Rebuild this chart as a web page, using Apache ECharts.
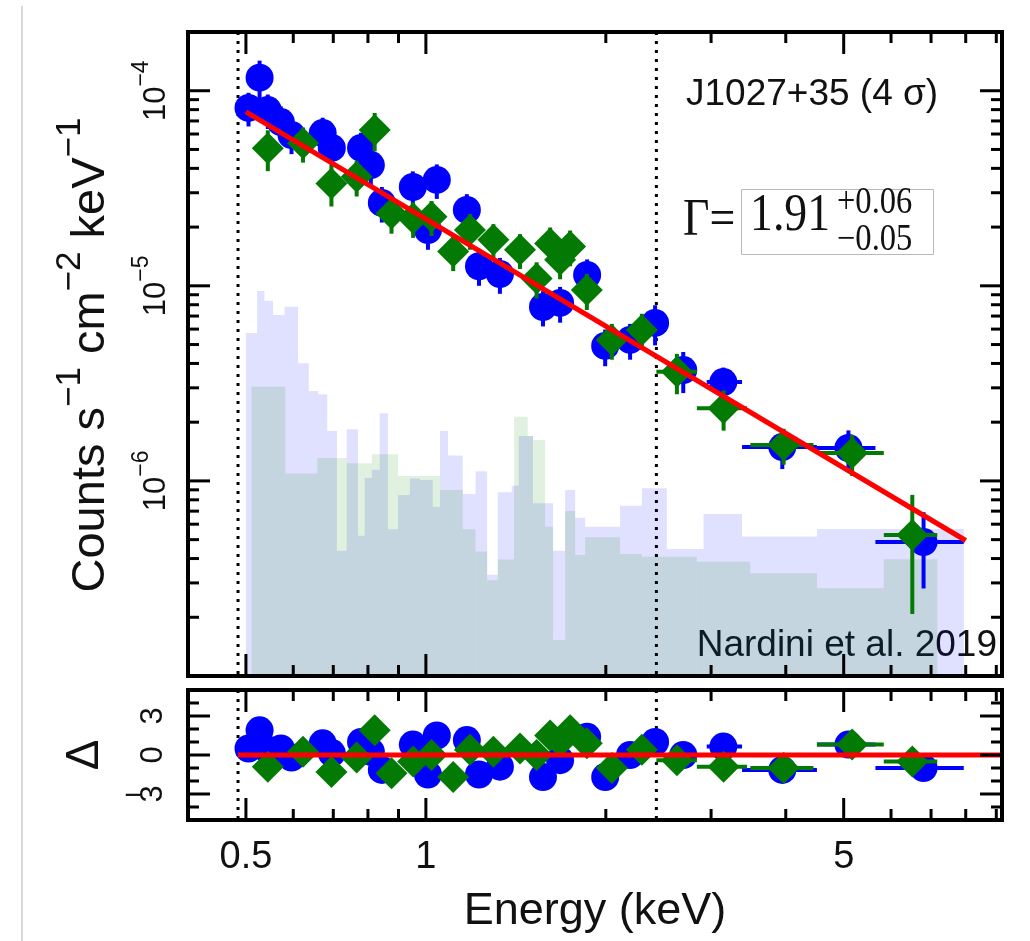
<!DOCTYPE html>
<html>
<head>
<meta charset="utf-8">
<script src="https://cdn.jsdelivr.net/npm/echarts@6/dist/echarts.min.js"></script>
<style>
  html, body { margin: 0; padding: 0; background: #fff; }
  #chart { width: 1030px; height: 941px; }
</style>
</head>
<body>
<div id="chart"></div>
<script>
// ---- axis ranges and ticks ----
const energyRange = [0.4, 9.2];          // keV
const rateRange = [1e-7, 2e-4];          // counts s^-1 cm^-2 keV^-1
const deltaRange = [-5, 5];

const xMajorTicks = [0.5, 1, 5];
const xMinorTicks = [0.6, 0.7, 0.8, 0.9, 2, 3, 4, 6, 7, 8, 9];
const xTickLabels = ['0.5', '1', '5'];

const yMajorTicks = [1e-4, 1e-5, 1e-6];
const yMinorTicks = [9e-5, 8e-5, 7e-5, 6e-5, 5e-5, 4e-5, 3e-5, 2e-5,
                     9e-6, 8e-6, 7e-6, 6e-6, 5e-6, 4e-6, 3e-6, 2e-6,
                     9e-7, 8e-7, 7e-7, 6e-7, 5e-7, 4e-7, 3e-7, 2e-7];
const yTickExponents = ['−4', '−5', '−6'];

const dMajorTicks = [-3, 0, 3];
const dMinorTicks = [-4, -2, -1, 1, 2, 4];
const dTickLabels = ['−3', '0', '3'];

// band limits marked with dotted lines (keV)
const bandLimits = [0.485, 2.43];

// ---- blue spectrum ----
const blueE = [0.505, 0.527, 0.544, 0.572, 0.596, 0.672, 0.696, 0.779, 0.809, 0.844, 0.951, 1.008, 1.043, 1.171, 1.227, 1.330, 1.570, 1.677, 1.861, 1.995, 2.196, 2.418, 2.695, 3.145, 3.947, 5.092, 6.801];
const blueELo = [0.500, 0.515, 0.537, 0.555, 0.585, 0.660, 0.685, 0.765, 0.795, 0.825, 0.930, 0.985, 1.030, 1.140, 1.200, 1.290, 1.520, 1.620, 1.800, 1.930, 2.110, 2.320, 2.560, 2.950, 3.380, 4.510, 5.650];
const blueEHi = [0.515, 0.537, 0.555, 0.585, 0.610, 0.685, 0.710, 0.795, 0.825, 0.865, 0.975, 1.030, 1.060, 1.200, 1.255, 1.370, 1.620, 1.730, 1.920, 2.060, 2.280, 2.520, 2.840, 3.380, 4.510, 5.650, 7.940];
const blueRate = [8.16e-5, 1.166e-4, 7.96e-5, 6.91e-5, 5.93e-5, 6.07e-5, 5.09e-5, 5.09e-5, 4.16e-5, 2.66e-5, 3.21e-5, 1.93e-5, 3.49e-5, 2.45e-5, 1.26e-5, 1.15e-5, 7.79e-6, 8.17e-6, 1.136e-5, 4.92e-6, 5.28e-6, 6.45e-6, 3.70e-6, 3.21e-6, 1.49e-6, 1.475e-6, 4.86e-7];
const blueRateErr = [1.6e-5, 2.6e-5, 1.6e-5, 1.4e-5, 1.2e-5, 1.2e-5, 1.0e-5, 1.0e-5, 9.0e-6, 5.5e-6, 6.5e-6, 4.0e-6, 7.0e-6, 5.0e-6, 2.6e-6, 2.4e-6, 1.6e-6, 1.7e-6, 2.3e-6, 1.05e-6, 1.1e-6, 1.5e-6, 8.8e-7, 6.0e-7, 3.4e-7, 3.4e-7, 2.05e-7];
const blueDelta = [0.5, 1.9, 0.4, 0.5, -0.2, 0.9, 0.15, 1.0, 0.25, -1.15, 0.8, -1.5, 1.5, 1.15, -1.5, -0.9, -1.7, -0.4, 1.4, -1.7, 0.0, 1.0, 0.0, 0.65, -1.15, 0.8, -1.0];

// ---- green spectrum ----
const greenE = [0.544, 0.623, 0.695, 0.766, 0.821, 0.876, 0.952, 1.022, 1.111, 1.185, 1.297, 1.437, 1.532, 1.614, 1.677, 1.743, 1.859, 2.047, 2.298, 2.630, 3.148, 3.967, 5.165, 6.512];
const greenELo = [0.530, 0.600, 0.675, 0.745, 0.800, 0.855, 0.930, 1.000, 1.085, 1.155, 1.260, 1.400, 1.490, 1.575, 1.650, 1.705, 1.810, 1.980, 2.220, 2.430, 2.840, 3.490, 4.510, 5.835];
const greenEHi = [0.560, 0.645, 0.715, 0.785, 0.840, 0.900, 0.975, 1.045, 1.140, 1.215, 1.335, 1.475, 1.575, 1.650, 1.705, 1.780, 1.910, 2.110, 2.380, 2.840, 3.445, 4.450, 5.835, 7.170];
const greenRate = [5.07e-5, 5.38e-5, 3.35e-5, 3.62e-5, 6.29e-5, 2.35e-5, 2.22e-5, 2.26e-5, 1.50e-5, 1.93e-5, 1.72e-5, 1.53e-5, 1.09e-5, 1.65e-5, 1.36e-5, 1.59e-5, 9.52e-6, 5.28e-6, 5.94e-6, 3.63e-6, 2.36e-6, 1.53e-6, 1.39e-6, 5.28e-7];
const greenRateErr = [1.2e-5, 1.1e-5, 8.0e-6, 7.5e-6, 1.4e-5, 5.0e-6, 4.6e-6, 4.6e-6, 3.1e-6, 4.0e-6, 3.5e-6, 3.1e-6, 2.3e-6, 3.4e-6, 2.8e-6, 3.3e-6, 2.0e-6, 1.1e-6, 1.25e-6, 8.5e-7, 5.5e-7, 3.2e-7, 3.3e-7, 3.2e-7];
const greenDelta = [-0.9, 0.25, -1.3, -0.2, 1.9, -1.4, -0.5, 0.0, -1.7, 0.4, 0.25, 0.5, 0.0, 1.5, 1.0, 1.9, 0.9, -1.0, 0.4, -0.4, -0.9, -1.0, 0.8, -0.5];

// ---- power-law model (end points) ----
const modelE = [0.5, 8.0];
const modelRate = [7.8e-5, 4.95e-7];
const residualZeroE = [0.485, 9.2];

// ---- background spectra (bin edges in keV, rates) ----
const bkgBlueEdges = [0.500, 0.522, 0.537, 0.555, 0.580, 0.611, 0.637, 0.660, 0.684, 0.710, 0.737, 0.770, 0.790, 0.812, 0.837, 0.864, 0.898, 0.940, 0.977, 1.027, 1.056, 1.089, 1.153, 1.211, 1.266, 1.319, 1.392, 1.430, 1.511, 1.632, 1.710, 1.777, 1.847, 2.113, 2.298, 2.530, 2.914, 3.380, 4.511, 7.943];
const bkgBlueRate = [5.73e-6, 9.41e-6, 8.39e-6, 7.09e-6, 7.82e-6, 4.01e-6, 2.89e-6, 2.78e-6, 1.80e-6, 4.38e-7, 1.84e-6, 5.24e-7, 1.035e-6, 1.14e-6, 2.22e-6, 5.66e-7, 8.47e-7, 1.03e-6, 1.01e-6, 7.38e-7, 1.80e-6, 1.35e-6, 8.57e-7, 1.12e-6, 3.30e-7, 8.74e-7, 9.45e-7, 1.70e-6, 7.68e-7, 4.38e-7, 8.98e-7, 6.48e-7, 5.83e-7, 7.46e-7, 9.16e-7, 4.48e-7, 6.77e-7, 5.19e-7, 5.67e-7];
const bkgGreenEdges = [0.511, 0.582, 0.658, 0.737, 0.812, 0.898, 1.056, 1.153, 1.211, 1.266, 1.319, 1.405, 1.480, 1.511, 1.583, 1.632, 1.710, 1.777, 1.847, 2.113, 2.298, 2.841, 3.489, 4.511, 5.835, 7.170];
const bkgGreenRate = [3.04e-6, 1.09e-6, 1.31e-6, 1.23e-6, 1.37e-6, 1.06e-6, 8.98e-7, 5.66e-7, 4.35e-7, 3.10e-7, 3.95e-7, 2.13e-6, 1.70e-6, 1.62e-6, 5.83e-7, 1.53e-7, 7.01e-7, 4.17e-7, 5.14e-7, 4.22e-7, 4.09e-7, 3.85e-7, 3.36e-7, 2.82e-7, 3.97e-7];

// ---- styling ----
const SANS = '"Liberation Sans", Arial, Helvetica, sans-serif';
const SERIF = '"Liberation Serif", "Times New Roman", serif';
const INK = '#111';
const BLUE = '#0000ff';
const GREEN = '#037a03';
const RED = '#ff0000';
const MAJOR_LEN = 22, MINOR_LEN = 11;

const chart = echarts.init(document.getElementById('chart'), null, { renderer: 'canvas' });

function hiddenAxis(extra) {
  return Object.assign({
    axisLine: { show: false }, axisTick: { show: false },
    axisLabel: { show: false }, splitLine: { show: false }
  }, extra);
}

function binsOf(edges, rates) {
  return rates.map((r, i) => [edges[i], edges[i + 1], r]);
}

// filled step histogram reaching down to the bottom of the panel
function histItem(params, api) {
  const p0 = api.coord([api.value(0), api.value(2)]);
  const p1 = api.coord([api.value(1), rateRange[0]]);
  return {
    type: 'rect',
    shape: { x: p0[0], y: p0[1], width: p1[0] - p0[0], height: p1[1] - p0[1] },
    style: api.style()
  };
}

// horizontal + vertical error bars
function errItem(color) {
  return function (params, api) {
    const a = api.coord([api.value(2), api.value(1)]);
    const b = api.coord([api.value(3), api.value(1)]);
    const c = api.coord([api.value(0), api.value(4)]);
    const d = api.coord([api.value(0), api.value(5)]);
    const st = { stroke: color, lineWidth: 4 };
    return {
      type: 'group', children: [
        { type: 'line', shape: { x1: a[0], y1: a[1], x2: b[0], y2: b[1] }, style: st },
        { type: 'line', shape: { x1: c[0], y1: c[1], x2: d[0], y2: d[1] }, style: st }
      ]
    };
  };
}

function dottedItem(yRef) {
  return function (params, api) {
    const cs = params.coordSys;
    const x = api.coord([api.value(0), yRef])[0];
    return {
      type: 'line',
      shape: { x1: x, y1: cs.y, x2: x, y2: cs.y + cs.height },
      style: { stroke: '#000', lineWidth: 3, lineDash: [3, 6] }
    };
  };
}

function rotLabel(x, y, text, rich) {
  return {
    type: 'text', x: x, y: y, rotation: Math.PI / 2,
    style: { text: text, rich: rich, fill: INK, fontFamily: SANS, fontSize: 31, align: 'center', verticalAlign: 'middle' }
  };
}

// frame, inward ticks on all four sides, and tick labels
function frameItem(opt) {
  return function (params, api) {
    const cs = params.coordSys;
    const L = cs.x, T = cs.y, R = cs.x + cs.width, B = cs.y + cs.height;
    const kids = [];
    const seg = (x1, y1, x2, y2) => kids.push({ type: 'line', shape: { x1, y1, x2, y2 }, style: { stroke: '#000', lineWidth: 3 } });
    const xAt = v => api.coord([v, opt.yRef])[0];
    const yAt = v => api.coord([opt.xRef, v])[1];
    const xTick = (v, len) => { const x = xAt(v); seg(x, T, x, T + len); seg(x, B, x, B - len); };
    const yTick = (v, len) => { const y = yAt(v); seg(L, y, L + len, y); seg(R, y, R - len, y); };
    xMajorTicks.forEach(v => xTick(v, MAJOR_LEN));
    xMinorTicks.forEach(v => xTick(v, MINOR_LEN));
    opt.yMajor.forEach(v => yTick(v, MAJOR_LEN));
    opt.yMinor.forEach(v => yTick(v, MINOR_LEN));
    kids.push({ type: 'rect', shape: { x: L, y: T, width: R - L, height: B - T },
                style: { fill: 'transparent', stroke: '#000', lineWidth: 4 } });
    opt.yMajor.forEach((v, i) => opt.label(v, i, yAt(v)).forEach(k => kids.push(k)));
    if (opt.xLabels) {
      xMajorTicks.forEach((v, i) => kids.push({
        type: 'text', x: xAt(v), y: B + 38,
        style: { text: opt.xLabels[i], fill: INK, fontFamily: SANS, fontSize: 38, align: 'center', verticalAlign: 'middle' }
      }));
    }
    return { type: 'group', children: kids };
  };
}

const powRich = {
  b: { fontFamily: SANS, fontSize: 31, fill: INK, lineHeight: 42, verticalAlign: 'bottom' },
  s: { fontFamily: SANS, fontSize: 23, fill: INK, lineHeight: 23, verticalAlign: 'top' }
};

const mainFrame = frameItem({
  xRef: 1, yRef: 1e-5, yMajor: yMajorTicks, yMinor: yMinorTicks,
  label: (v, i, y) => [rotLabel(151, y, '{b|10}{s|' + yTickExponents[i] + '}', powRich)]
});

const residFrame = frameItem({
  xRef: 1, yRef: 0, yMajor: dMajorTicks, yMinor: dMinorTicks, xLabels: xTickLabels,
  label: (v, i, y) => {
    const t = dTickLabels[i];
    if (t.charAt(0) === '−') {
      return [
        rotLabel(153, y, t.slice(1)),
        { type: 'text', x: 133, y: y + 2,
          style: { text: '−', fill: INK, fontFamily: SANS, fontSize: 31, align: 'center', verticalAlign: 'middle' } }
      ];
    }
    return [rotLabel(153, y, t)];
  }
});

function errData(E, lo, hi, val, vLo, vHi) {
  return E.map((e, i) => [e, val[i], lo[i], hi[i], vLo[i], vHi[i]]);
}

const blueErrMain = errData(blueE, blueELo, blueEHi, blueRate,
  blueRate.map((r, i) => r - blueRateErr[i]), blueRate.map((r, i) => r + blueRateErr[i]));
const greenErrMain = errData(greenE, greenELo, greenEHi, greenRate,
  greenRate.map((r, i) => r - greenRateErr[i]), greenRate.map((r, i) => r + greenRateErr[i]));
const blueErrRes = errData(blueE, blueELo, blueEHi, blueDelta,
  blueDelta.map(d => d - 1), blueDelta.map(d => d + 1));
const greenErrRes = errData(greenE, greenELo, greenEHi, greenDelta,
  greenDelta.map(d => d - 1), greenDelta.map(d => d + 1));

const markerStyle = c => ({ color: c, opacity: 1 });

const option = {
  animation: false,
  backgroundColor: '#ffffff',
  grid: [
    { left: 188, top: 32, width: 814, height: 644 },
    { left: 188, top: 690, width: 814, height: 130 }
  ],
  xAxis: [
    hiddenAxis({ gridIndex: 0, type: 'log', logBase: 10, min: energyRange[0], max: energyRange[1] }),
    hiddenAxis({ gridIndex: 1, type: 'log', logBase: 10, min: energyRange[0], max: energyRange[1] })
  ],
  yAxis: [
    hiddenAxis({ gridIndex: 0, type: 'log', logBase: 10, min: rateRange[0], max: rateRange[1] }),
    hiddenAxis({ gridIndex: 1, type: 'value', min: deltaRange[0], max: deltaRange[1] })
  ],
  series: [
    { type: 'custom', name: 'bkg-blue', xAxisIndex: 0, yAxisIndex: 0, z: 1,
      data: binsOf(bkgBlueEdges, bkgBlueRate), encode: { x: [0, 1], y: 2 },
      itemStyle: { color: 'rgba(0,0,255,0.12)' }, renderItem: histItem, silent: true },
    { type: 'custom', name: 'bkg-green', xAxisIndex: 0, yAxisIndex: 0, z: 1,
      data: binsOf(bkgGreenEdges, bkgGreenRate), encode: { x: [0, 1], y: 2 },
      itemStyle: { color: 'rgba(0,140,0,0.12)' }, renderItem: histItem, silent: true },
    { type: 'custom', xAxisIndex: 0, yAxisIndex: 0, z: 2, silent: true,
      data: bandLimits.map(e => [e, 1e-5]), renderItem: dottedItem(1e-5) },
    { type: 'custom', xAxisIndex: 1, yAxisIndex: 1, z: 2, silent: true,
      data: bandLimits.map(e => [e, 0]), renderItem: dottedItem(0) },

    { type: 'custom', xAxisIndex: 0, yAxisIndex: 0, z: 3, silent: true,
      data: blueErrMain, renderItem: errItem(BLUE) },
    { type: 'scatter', xAxisIndex: 0, yAxisIndex: 0, z: 3, silent: true,
      data: blueE.map((e, i) => [e, blueRate[i]]), symbol: 'circle', symbolSize: 28,
      itemStyle: markerStyle(BLUE) },
    { type: 'custom', xAxisIndex: 0, yAxisIndex: 0, z: 4, silent: true,
      data: greenErrMain, renderItem: errItem(GREEN) },
    { type: 'scatter', xAxisIndex: 0, yAxisIndex: 0, z: 4, silent: true,
      data: greenE.map((e, i) => [e, greenRate[i]]), symbol: 'diamond', symbolSize: [32, 32],
      itemStyle: markerStyle(GREEN) },
    { type: 'line', xAxisIndex: 0, yAxisIndex: 0, z: 5, silent: true,
      data: modelE.map((e, i) => [e, modelRate[i]]), symbol: 'none',
      lineStyle: { color: RED, width: 5 } },

    { type: 'custom', xAxisIndex: 1, yAxisIndex: 1, z: 3, silent: true,
      data: blueErrRes, renderItem: errItem(BLUE) },
    { type: 'scatter', xAxisIndex: 1, yAxisIndex: 1, z: 3, silent: true,
      data: blueE.map((e, i) => [e, blueDelta[i]]), symbol: 'circle', symbolSize: 28,
      itemStyle: markerStyle(BLUE) },
    { type: 'custom', xAxisIndex: 1, yAxisIndex: 1, z: 4, silent: true,
      data: greenErrRes, renderItem: errItem(GREEN) },
    { type: 'scatter', xAxisIndex: 1, yAxisIndex: 1, z: 4, silent: true,
      data: greenE.map((e, i) => [e, greenDelta[i]]), symbol: 'diamond', symbolSize: [32, 32],
      itemStyle: markerStyle(GREEN) },
    { type: 'line', xAxisIndex: 1, yAxisIndex: 1, z: 5, silent: true,
      data: residualZeroE.map(e => [e, 0]), symbol: 'none',
      lineStyle: { color: RED, width: 5 } },

    { type: 'custom', xAxisIndex: 0, yAxisIndex: 0, z: 6, silent: true,
      data: [[1, 1e-5]], renderItem: mainFrame },
    { type: 'custom', xAxisIndex: 1, yAxisIndex: 1, z: 6, silent: true,
      data: [[1, 0]], renderItem: residFrame }
  ],
  graphic: [
    { type: 'line', shape: { x1: 22, y1: 6, x2: 22, y2: 941 }, style: { stroke: '#d9d9d9', lineWidth: 2 }, silent: true },
    { type: 'text', x: 595, y: 912, silent: true,
      style: { text: 'Energy (keV)', fill: INK, fontFamily: SANS, fontSize: 45, align: 'center', verticalAlign: 'middle' } },
    { type: 'text', x: 84, y: 355, rotation: Math.PI / 2, silent: true,
      style: {
        text: '{b|Counts s}{s|−1}{b| cm}{s|−2}{b| keV}{s|−1}',
        align: 'center', verticalAlign: 'middle',
        rich: {
          b: { fontFamily: SANS, fontSize: 47, fill: INK, lineHeight: 62, verticalAlign: 'bottom' },
          s: { fontFamily: SANS, fontSize: 35, fill: INK, lineHeight: 35, verticalAlign: 'top' }
        }
      } },
    { type: 'text', x: 85, y: 755, rotation: Math.PI / 2, silent: true,
      style: { text: 'Δ', fill: INK, fontFamily: SANS, fontSize: 46, align: 'center', verticalAlign: 'middle' } },
    { type: 'text', x: 686, y: 95, silent: true,
      style: { text: 'J1027+35 (4 σ)', fill: INK, fontFamily: SANS, fontSize: 37, align: 'left', verticalAlign: 'middle' } },
    { type: 'text', x: 997, y: 646, silent: true,
      style: { text: 'Nardini et al. 2019', fill: INK, fontFamily: SANS, fontSize: 37, align: 'right', verticalAlign: 'middle' } },
    { type: 'rect', shape: { x: 741.5, y: 189.5, width: 192, height: 65 }, silent: true,
      style: { fill: 'transparent', stroke: '#b8b8b8', lineWidth: 1 } },
    { type: 'text', x: 683, y: 221, scaleX: 0.88, silent: true,
      style: { text: 'Γ=', fill: INK, fontFamily: SERIF, fontSize: 52, align: 'left', verticalAlign: 'middle' } },
    { type: 'text', x: 750, y: 216, scaleX: 0.88, silent: true,
      style: { text: '1.91', fill: INK, fontFamily: SERIF, fontSize: 52, align: 'left', verticalAlign: 'middle' } },
    { type: 'text', x: 837, y: 203, scaleX: 0.88, silent: true,
      style: { text: '+0.06', fill: INK, fontFamily: SERIF, fontSize: 37, align: 'left', verticalAlign: 'middle' } },
    { type: 'text', x: 837, y: 240, scaleX: 0.88, silent: true,
      style: { text: '−0.05', fill: INK, fontFamily: SERIF, fontSize: 37, align: 'left', verticalAlign: 'middle' } }
  ]
};

chart.setOption(option);
</script>
</body>
</html>
